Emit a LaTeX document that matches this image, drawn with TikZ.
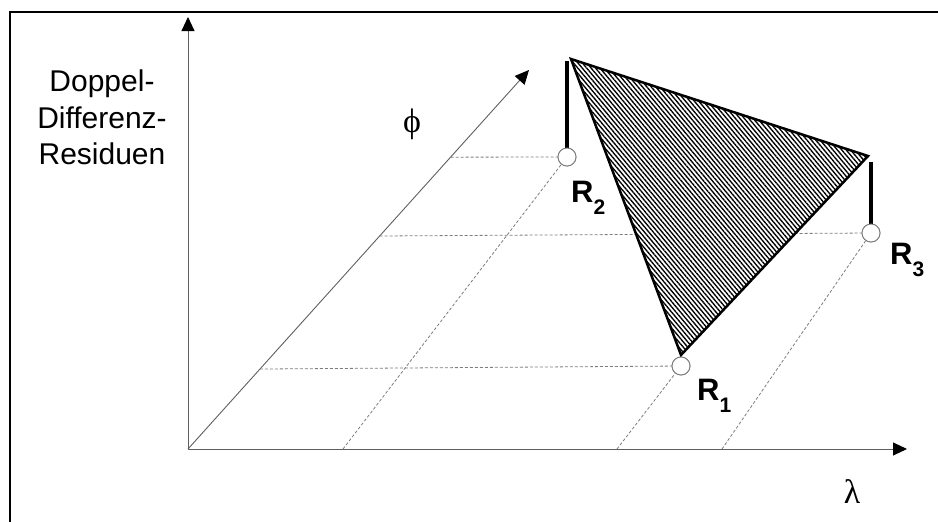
\documentclass[tikz,border=0pt]{standalone}
\usepackage{fontspec}
\setmainfont{Liberation Serif}
\setsansfont{Liberation Sans}
\usetikzlibrary{arrows.meta, calc, patterns.meta}
\definecolor{axisgray}{RGB}{95, 95, 95}
\definecolor{gridgray}{RGB}{125, 125, 125}
\tikzset{
  font=\sffamily,
  axisline/.style={
    draw=axisgray, line width=0.9pt,
    -{Triangle[length=14pt, width=13pt, color=black]}
  },
  gridline/.style={
    draw=gridgray, line width=0.8pt, dash pattern=on 3pt off 2pt
  },
  pointblock/.style={
    circle, draw=gridgray, fill=white, line width=0.9pt,
    minimum size=18pt, inner sep=0pt
  },
  stemline/.style={draw=black, line width=4.5pt},
  planeblock/.style={
    draw=black, line width=2.5pt,
    preaction={fill=white},
    pattern={Lines[angle=-50, distance=3.4pt, line width=1.35pt]}
  },
  pointlabel/.style={
    font=\sffamily\bfseries\fontsize{31}{31}\selectfont,
    inner sep=0pt, anchor=base west
  },
  axislabel/.style={font=\rmfamily\fontsize{34}{34}\selectfont, inner sep=0pt}
}
\newcommand{\ressub}[1]{R\raisebox{-12pt}{\fontsize{21}{21}\selectfont #1}}

\begin{document}
\begin{tikzpicture}[x=1pt, y=-1pt]

  \useasboundingbox (0,0) rectangle (938,522);

  % Frame (only top and left edge visible)
  \draw[line width=2pt] (10,522) -- (10,12) -- (938,12);

  % Axes
  \coordinate (origin) at (188,449);
  \coordinate (resend) at (188,17);
  \coordinate (lamend) at (907,449);
  \coordinate (phiend) at (529,70);

  \draw[axisline] (origin) -- (resend);
  \draw[axisline] (origin) -- (lamend);
  \draw[axisline] (origin) -- (phiend);

  % Grid feet on the axes
  \coordinate (phi_a) at ($(origin)!0.211!(phiend)$);
  \coordinate (phi_b) at ($(origin)!0.562!(phiend)$);
  \coordinate (phi_c) at ($(origin)!0.770!(phiend)$);
  \coordinate (lam_a) at (343,449);
  \coordinate (lam_b) at (617,449);
  \coordinate (lam_c) at (722,449);

  % Residual points
  \node[pointblock] (r1) at (681,366) {};
  \node[pointblock] (r2) at (567,157) {};
  \node[pointblock] (r3) at (871,233) {};

  \draw[gridline] (phi_a) -- (r1);
  \draw[gridline] (phi_b) -- (r3);
  \draw[gridline] (phi_c) -- (r2);
  \draw[gridline] (lam_a) -- (r2);
  \draw[gridline] (lam_b) -- (r1);
  \draw[gridline] (lam_c) -- (r3);

  % Residual plane
  \coordinate (tri_top) at (571,59);
  \coordinate (tri_right) at (868,156);
  \coordinate (tri_bottom) at (681,355);
  \draw[planeblock] (tri_top) -- (tri_right) -- (tri_bottom) -- cycle;

  % Residual stems
  \coordinate (stem2) at (567,61);
  \coordinate (stem3) at (871,162);
  \draw[stemline] (r2.north) -- (stem2);
  \draw[stemline] (r3.north) -- (stem3);

  % redraw circles on top
  \node[pointblock] at (r1) {};
  \node[pointblock] at (r2) {};
  \node[pointblock] at (r3) {};

  % Labels
  \node[pointlabel] (lbl_r1) at (697,400) {\ressub{1}};
  \node[pointlabel] (lbl_r2) at (571,202) {\ressub{2}};
  \node[pointlabel] (lbl_r3) at (890,264) {\ressub{3}};

  \node[axislabel] (lbl_phi) at (412,124) {ϕ};
  \node[axislabel] (lbl_lam) at (852,492) {λ};

  \node[anchor=north, align=center, inner sep=0pt,
        font=\sffamily\fontsize{30}{36.5}\selectfont] (lbl_res) at (102,70)
    {Doppel-\\Differenz-\\Residuen};

\end{tikzpicture}
\end{document}
